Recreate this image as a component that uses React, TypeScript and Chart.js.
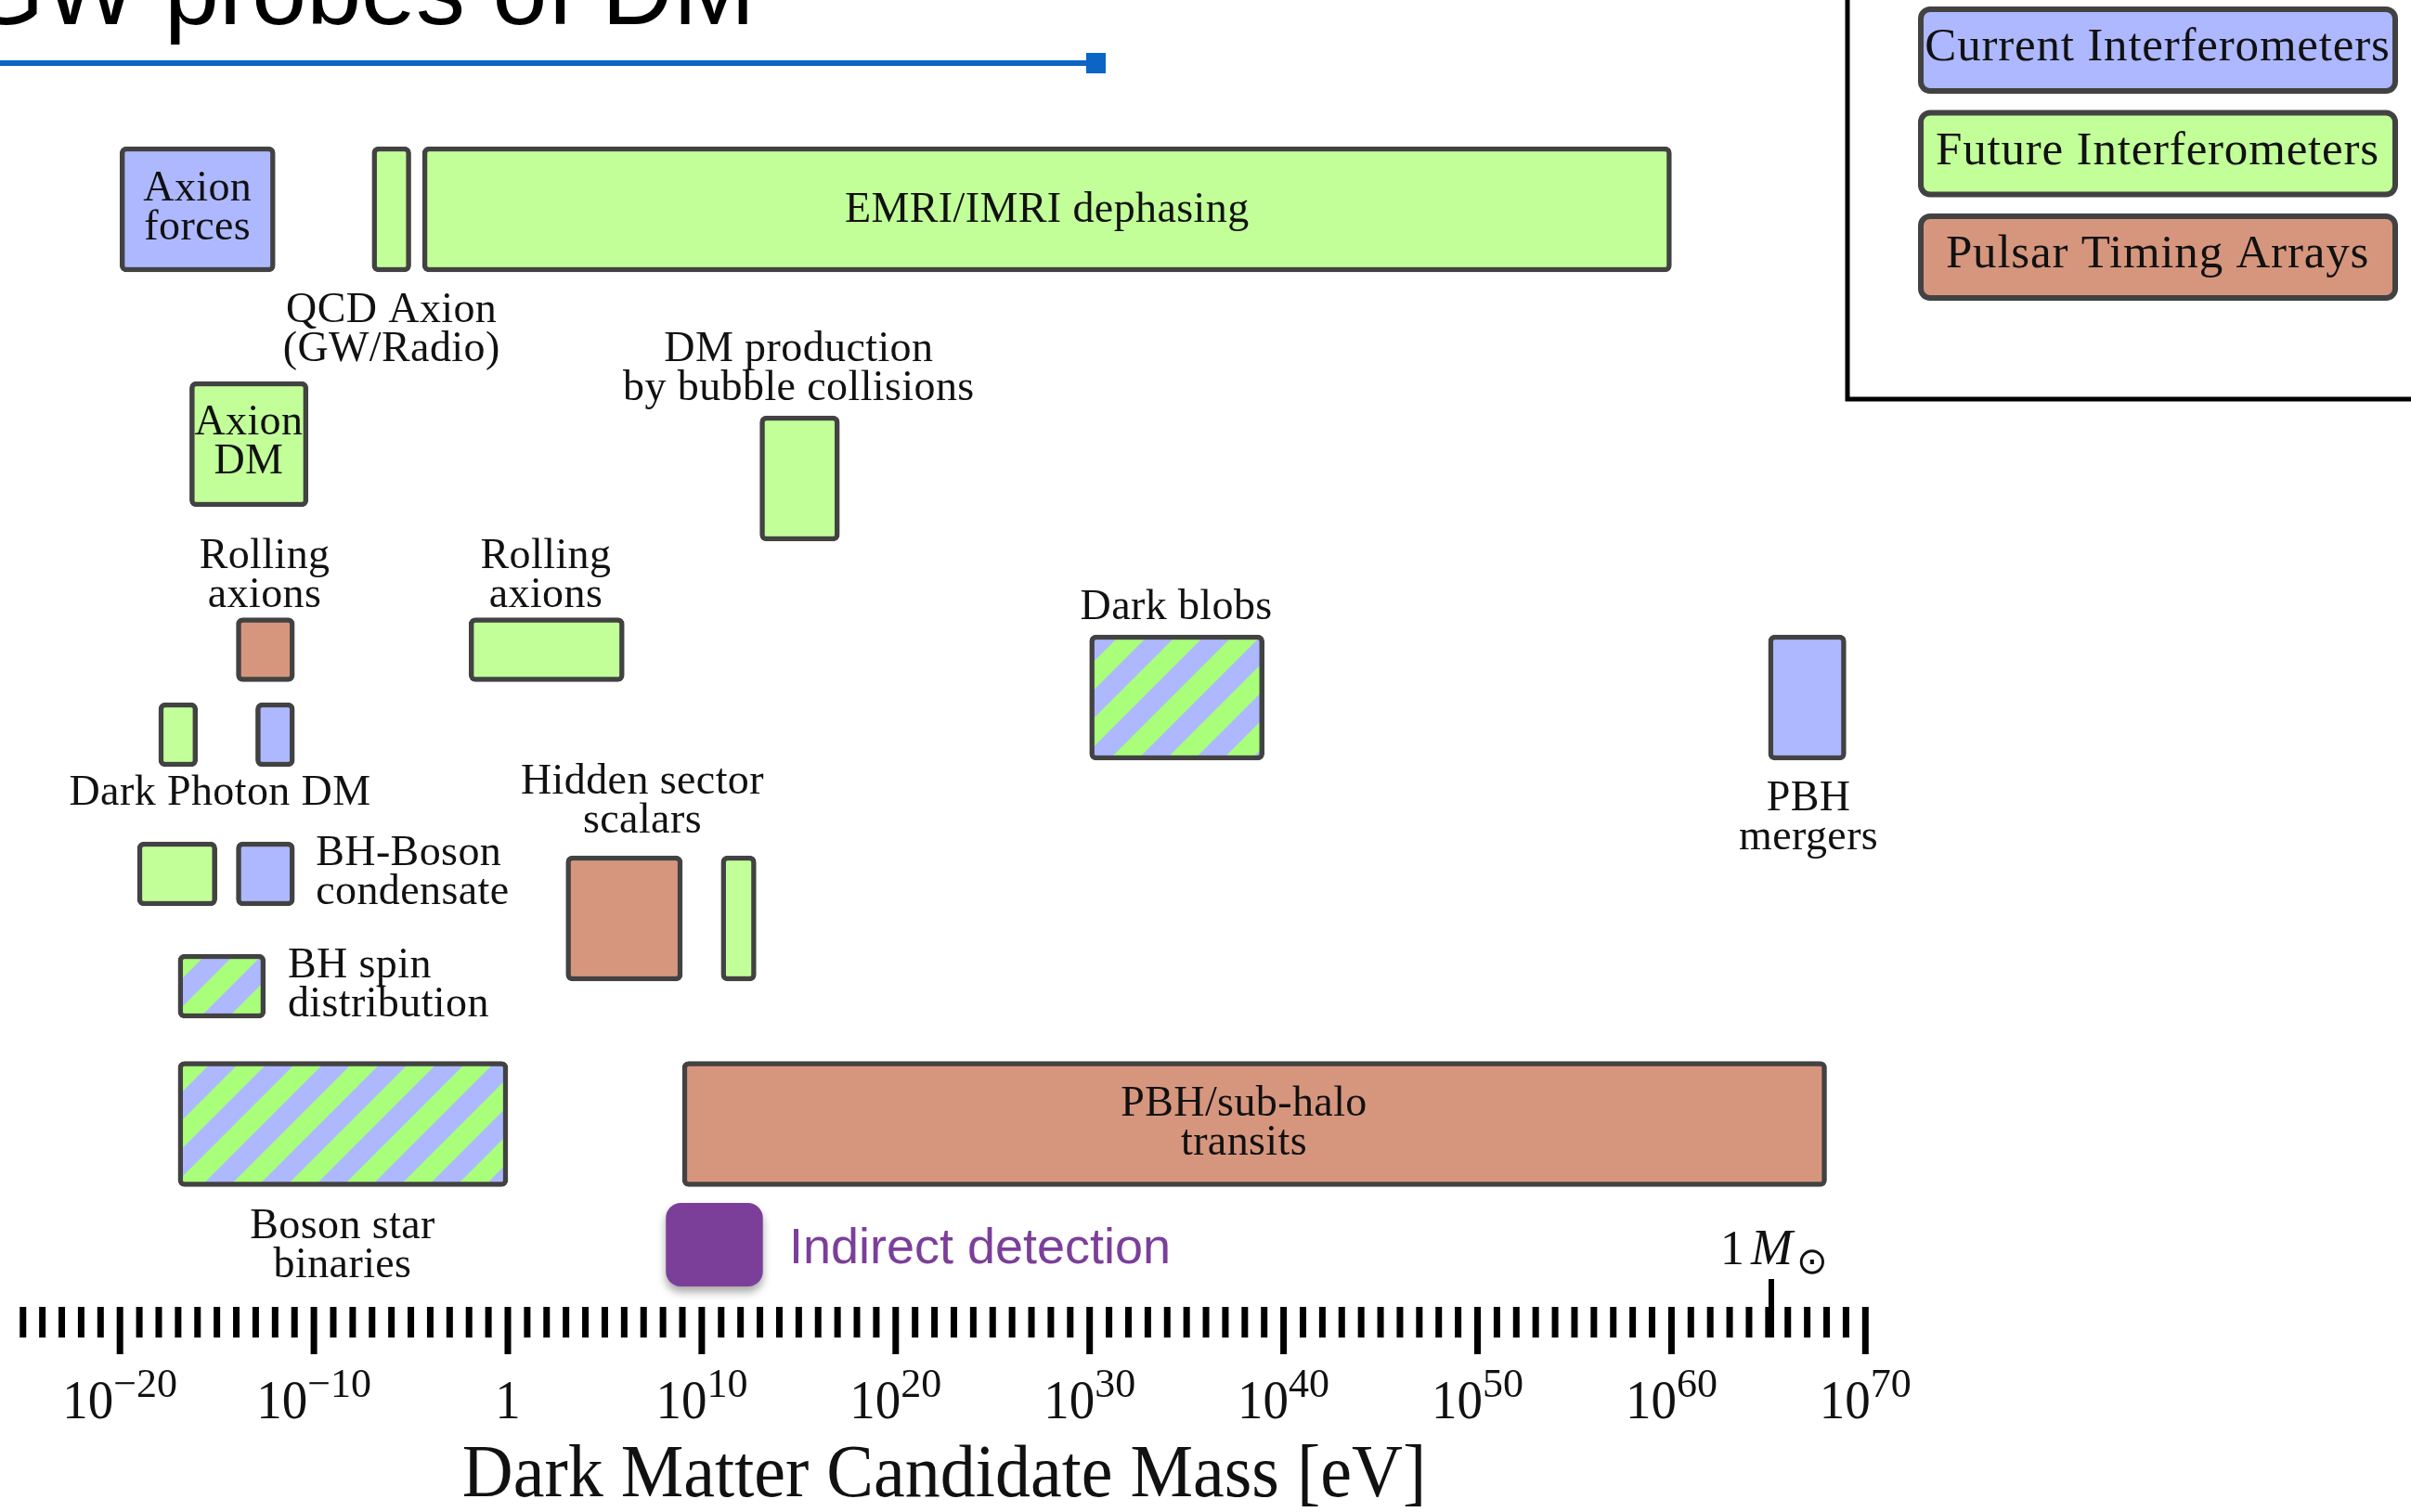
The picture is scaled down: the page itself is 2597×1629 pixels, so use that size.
import React, { useEffect, useRef } from 'react';
import { Chart, registerables } from 'chart.js';
Chart.register(...registerables);

const W = 2597;
const H = 1629;

// ---------- data: probe boxes (mass range in log10(m / eV)) ----------
const boxNames = [
  'Axion forces', 'QCD Axion (GW/Radio)', 'EMRI/IMRI dephasing', 'Axion DM', 'DM production by bubble collisions',
  'Rolling axions (PTA)', 'Rolling axions (future)', 'Dark blobs', 'PBH mergers',
  'Dark Photon DM (future)', 'Dark Photon DM (current)', 'BH-Boson condensate (future)', 'BH-Boson condensate (current)',
  'Hidden sector scalars (PTA)', 'Hidden sector scalars (future)', 'BH spin distribution', 'Boson star binaries', 'PBH/sub-halo transits',
];
const boxMassFrom = [-20, -7, -4.4, -16.4, 13, -14, -2, 30, 65, -18, -13, -19.1, -14, 3, 11, -17, -17, 9];
const boxMassTo = [-12, -5, 60, -10.3, 17.1, -11, 6, 39, 69, -16, -11, -15, -11, 9, 12.8, -12.5, 0, 68];
const boxKind = ['current', 'future', 'future', 'future', 'future', 'pta', 'future', 'both', 'current',
  'future', 'current', 'future', 'current', 'pta', 'future', 'both', 'both', 'pta'];
// vertical layout row (diagram has no y quantity; layout units, top = 0)
const boxRow = [225.5, 225.5, 225.5, 478.5, 515.5, 700, 700, 751.5, 751.5, 791.5, 791.5, 941.5, 941.5, 989.5, 989.5, 1062.5, 1211, 1211];
const boxTall = [1, 1, 1, 1, 1, 0, 0, 1, 1, 0, 0, 0, 0, 1, 1, 0, 1, 1];

// ---------- data: text labels ----------
const labelLines = [
  ['Axion', 'forces'], ['EMRI/IMRI dephasing'], ['QCD Axion', '(GW/Radio)'], ['Axion', 'DM'],
  ['DM production', 'by bubble collisions'], ['Rolling', 'axions'], ['Rolling', 'axions'], ['Dark blobs'],
  ['PBH', 'mergers'], ['Dark Photon DM'], ['BH-Boson', 'condensate'], ['Hidden sector', 'scalars'],
  ['BH spin', 'distribution'], ['Boson star', 'binaries'], ['PBH/sub-halo', 'transits'],
];
const labelMass = [-16.0, 27.8, -6.0, -13.36, 15.0, -12.54, 1.96, 34.47, 67.07, -14.84, -9.9, 6.94, -11.35, -8.52, 37.96];
const labelRow = [216, 239, 347, 468, 389, 612, 612, 667, 873, 867, 932, 855, 1053, 1334, 1202];
const labelAlign = ['center', 'center', 'center', 'center', 'center', 'center', 'center', 'center', 'center',
  'center', 'left', 'center', 'left', 'center', 'center'];

// ---------- data: axis ----------
const decadeMin = -25;
const decadeMax = 70;
const majorExp = [-20, -10, 0, 10, 20, 30, 40, 50, 60, 70];
const tickBase = ['10', '10', '1', '10', '10', '10', '10', '10', '10', '10'];
const tickSup = ['\u221220', '\u221210', '', '10', '20', '30', '40', '50', '60', '70'];
const axisTitle = 'Dark Matter Candidate Mass [eV]';
const solarMassExp = 65.15;

// ---------- data: legend & annotations ----------
const legendLabels = ['Current Interferometers', 'Future Interferometers', 'Pulsar Timing Arrays'];
const legendKinds = ['current', 'future', 'pta'];
const titleText = 'GW probes of DM';
const indirectText = 'Indirect detection';
const indirectMass = [8.15, 13.15];
const indirectRow = [1296, 1386];
const indirectTextMass = 14.5;

// ---------- style ----------
const C_BLUE = '#ADB8FF';
const C_GREEN = '#C2FF99';
const C_ORANGE = '#D6967D';
const C_STRIPE = '#A9FF7A';
const C_BORDER = '#424242';
const C_PURPLE = '#7B3F9A';
const C_TITLE_LINE = '#0A65C4';
const SERIF = '"Liberation Serif", "Times New Roman", serif';
const SANS = '"Liberation Sans", Arial, sans-serif';

function makeHatch(ctx: CanvasRenderingContext2D) {
  const P = 61;
  const t = document.createElement('canvas');
  t.width = P; t.height = P;
  const g = t.getContext('2d')!;
  g.fillStyle = C_BLUE; g.fillRect(0, 0, P, P);
  g.fillStyle = C_STRIPE;
  const h = P / 2, L = 3 * P;
  for (let c = -2 * P; c <= 3 * P; c += P) {
    g.beginPath();
    g.moveTo(c + L, -L); g.lineTo(c + h + L, -L); g.lineTo(c + h - L, L); g.lineTo(c - L, L);
    g.closePath(); g.fill();
  }
  return ctx.createPattern(t, 'repeat')!;
}

function txt(ctx: CanvasRenderingContext2D, s: string, x: number, y: number, font: string,
  align: CanvasTextAlign = 'center', color = '#111', sy = 1, spacing = 0) {
  ctx.save();
  ctx.font = font; ctx.fillStyle = color; ctx.textAlign = align; ctx.textBaseline = 'alphabetic';
  if (spacing) (ctx as any).letterSpacing = `${spacing}px`;
  ctx.translate(x, y); ctx.scale(1, sy); ctx.fillText(s, 0, 0);
  ctx.restore();
}

export default function App() {
  const ref = useRef<HTMLCanvasElement>(null);
  useEffect(() => {
    document.body.style.margin = '0';
    document.body.style.overflow = 'hidden';
    const canvas = ref.current!;
    const ctx0 = canvas.getContext('2d')!;
    const hatch = makeHatch(ctx0);
    const fillFor = (k: string) => (k === 'current' ? C_BLUE : k === 'future' ? C_GREEN : k === 'pta' ? C_ORANGE : hatch);

    const mk = (tall: boolean) => {
      const idx = boxNames.map((_, i) => i).filter((i) => !!boxTall[i] === tall);
      return {
        label: tall ? 'tall' : 'short',
        stack: 'boxes',
        data: idx.map((i) => ({ y: boxRow[i], x: [boxMassFrom[i], boxMassTo[i]], kind: boxKind[i] })),
        backgroundColor: (c: any) => fillFor(c.raw ? c.raw.kind : 'future'),
        borderColor: C_BORDER,
        borderWidth: 5.5,
        borderRadius: 7,
        borderSkipped: false,
        barThickness: tall ? 135 : 69,
      };
    };

    const pxPerDecade = 20.89;
    const xAt = 129.2; // pixel of 1e-20 eV
    const xMin = -20 - xAt / pxPerDecade;
    const xMax = xMin + W / pxPerDecade;

    const decor = {
      id: 'decor',
      beforeDraw(chart: any) {
        const { ctx } = chart;
        ctx.save(); ctx.fillStyle = '#fff'; ctx.fillRect(0, 0, chart.width, chart.height); ctx.restore();
      },
      afterDatasetsDraw(chart: any) {
        const { ctx } = chart;
        const xs = chart.scales.x, ys = chart.scales.y;
        const X = (v: number) => xs.getPixelForValue(v);
        const Y = (v: number) => ys.getPixelForValue(v);

        // title (cut at top) and blue rule
        txt(ctx, titleText, -35, Y(26), `106px ${SANS}`, 'left', '#000');
        ctx.save();
        ctx.strokeStyle = C_TITLE_LINE; ctx.lineWidth = 6;
        ctx.beginPath(); ctx.moveTo(0, Y(68)); ctx.lineTo(1180, Y(68)); ctx.stroke();
        ctx.fillStyle = C_TITLE_LINE; ctx.fillRect(1170, Y(57), 21, 22);
        ctx.restore();

        // legend frame + items
        ctx.save();
        ctx.strokeStyle = '#000'; ctx.lineWidth = 5;
        ctx.beginPath(); ctx.moveTo(1990, -5); ctx.lineTo(1990, 430); ctx.lineTo(W + 5, 430); ctx.stroke();
        legendLabels.forEach((lab, i) => {
          const top = 8 + i * 111.5;
          ctx.beginPath();
          (ctx as any).roundRect(2069, top + 2, 511, 88, 10);
          ctx.fillStyle = fillFor(legendKinds[i]); ctx.fill();
          ctx.lineWidth = 6; ctx.strokeStyle = C_BORDER; ctx.stroke();
          txt(ctx, lab, 2324, top + 57, `51px ${SERIF}`, 'center', '#111', 1, 0.8);
        });
        ctx.restore();

        // box labels
        labelLines.forEach((lines, i) => {
          lines.forEach((ln, j) => {
            txt(ctx, ln, X(labelMass[i]), Y(labelRow[i] + j * 42), `46px ${SERIF}`, labelAlign[i] as CanvasTextAlign, '#111', 1, 0.4);
          });
        });

        // indirect detection marker
        ctx.save();
        ctx.shadowColor = 'rgba(0,0,0,0.35)'; ctx.shadowBlur = 10; ctx.shadowOffsetY = 6;
        ctx.fillStyle = C_PURPLE;
        ctx.beginPath();
        (ctx as any).roundRect(X(indirectMass[0]), Y(indirectRow[0]), X(indirectMass[1]) - X(indirectMass[0]), Y(indirectRow[1]) - Y(indirectRow[0]), 16);
        ctx.fill();
        ctx.restore();
        txt(ctx, indirectText, X(indirectTextMass), Y(1361), `54px ${SANS}`, 'left', C_PURPLE);

        // ruler ticks
        ctx.save();
        ctx.fillStyle = '#000';
        for (let e = decadeMin; e <= decadeMax; e++) {
          const px = X(e);
          const major = e % 10 === 0;
          const bottom = major ? 1459 : 1441;
          ctx.fillRect(px - 3.5, Y(1408), 7, Y(bottom) - Y(1408));
        }
        // solar mass tick
        const sx = X(solarMassExp);
        ctx.fillRect(sx - 3, Y(1378), 6, Y(1441) - Y(1378));
        ctx.restore();
        txt(ctx, '1', sx - 55, Y(1362), `52px ${SERIF}`, 'left', '#111');
        txt(ctx, 'M', sx - 22, Y(1362), `italic 54px ${SERIF}`, 'left', '#111');
        txt(ctx, '\u2299', sx + 27, Y(1372), `40px "DejaVu Sans", ${SERIF}`, 'left', '#111');

        // tick labels 10^n
        majorExp.forEach((e, i) => {
          const cx = X(e);
          ctx.font = `55px ${SERIF}`;
          const wb = ctx.measureText(tickBase[i]).width;
          ctx.font = `44px ${SERIF}`;
          const we = tickSup[i] ? ctx.measureText(tickSup[i]).width : 0;
          const x0 = cx - (wb + we) / 2;
          txt(ctx, tickBase[i], x0, Y(1528), `55px ${SERIF}`, 'left', '#111', 1.08);
          if (tickSup[i]) txt(ctx, tickSup[i], x0 + wb, Y(1505), `44px ${SERIF}`, 'left', '#111');
        });

        // axis title
        txt(ctx, axisTitle, (X(decadeMin) + X(decadeMax)) / 2, Y(1612), `76px ${SERIF}`, 'center', '#111', 1.06);
      },
    };

    const chart = new Chart(canvas, {
      type: 'bar',
      data: { datasets: [mk(true), mk(false)] as any },
      options: {
        indexAxis: 'y',
        responsive: false,
        animation: false,
        events: [],
        layout: { padding: 0 },
        plugins: { legend: { display: false }, tooltip: { enabled: false }, title: { display: false } },
        scales: {
          x: { type: 'linear', min: xMin, max: xMax, display: false, offset: false, stacked: false },
          y: { type: 'linear', min: 0, max: H, reverse: true, display: false, offset: false },
        },
      } as any,
      plugins: [decor],
    });
    return () => chart.destroy();
  }, []);
  return <canvas ref={ref} width={W} height={H} style={{ display: 'block', width: W, height: H }} />;
}
